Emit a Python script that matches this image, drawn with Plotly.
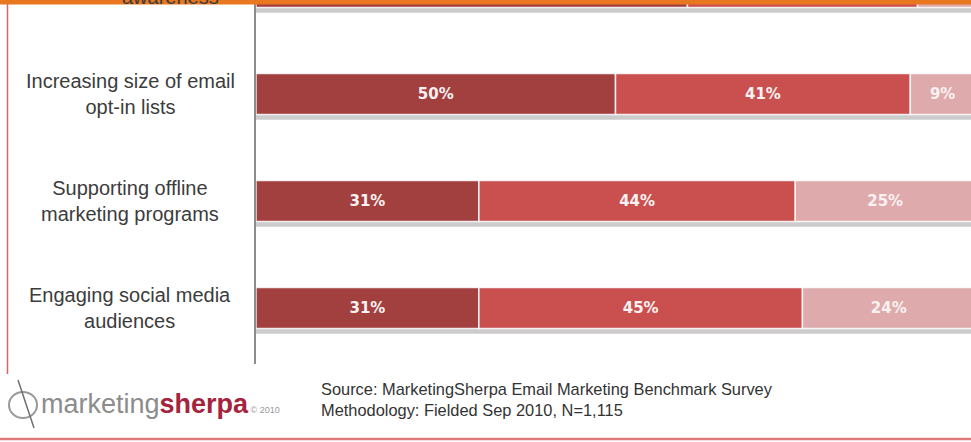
import numpy as np
import plotly.graph_objects as go

# Datos (la fila superior está cortada en el original)
categorias = [
    " <br>awareness",
    "Increasing size of email<br>opt-in lists",
    "Supporting offline<br>marketing programs",
    "Engaging social media<br>audiences",
]
muy_efectivo = [60, 50, 31, 31]
algo_efectivo = [32, 41, 44, 45]
no_efectivo = [8, 9, 25, 24]

fuente = "Source: MarketingSherpa Email Marketing Benchmark Survey"
metodologia = "Methodology: Fielded Sep 2010, N=1,115"

W, H = 971, 442
COLORES = ["#A23F3F", "#C9504F", "#DFAAAB"]
ANCHO = 0.383


def px(x):
    return x / W


def py(y):
    return 1 - y / H


fig = go.Figure()

# Sombra gris bajo cada barra (total de la fila, desplazada unos píxeles)
totales = np.array(muy_efectivo) + np.array(algo_efectivo) + np.array(no_efectivo)
fig.add_trace(go.Bar(
    y=categorias, x=totales, base=0, orientation="h",
    width=ANCHO, offset=-ANCHO / 2 + 0.048,
    marker=dict(color="rgba(120,120,120,0.38)", line=dict(width=0)),
    hoverinfo="skip",
))

base = np.zeros(len(categorias))
for valores, color in zip([muy_efectivo, algo_efectivo, no_efectivo], COLORES):
    # la fila superior queda fuera del recorte: sin etiqueta
    textos = [""] + [f"{v}%" for v in valores[1:]]
    fig.add_trace(go.Bar(
        y=categorias, x=valores, base=base.copy(), orientation="h", width=ANCHO,
        marker=dict(color=color, line=dict(color="rgba(255,255,255,0.85)", width=1.5)),
        text=textos, textposition="inside",
        insidetextanchor="middle", constraintext="none",
        textfont=dict(family="DejaVu Sans", size=15, color="#FAF2F2", weight="bold"),
    ))
    base += np.array(valores)

# Etiquetas de categoría centradas a la izquierda
for cat in categorias[1:]:
    fig.add_annotation(
        x=px(130), xref="paper", y=cat, yref="y", text=cat,
        showarrow=False, xanchor="center", yanchor="middle", align="center",
        font=dict(family="Liberation Sans", size=20, color="#3C3C3C"),
    )
# la primera etiqueta solo asoma por el borde superior
fig.add_annotation(
    x=px(170), xref="paper", y=py(-3), yref="paper", text=categorias[0].split("<br>")[-1],
    showarrow=False, xanchor="center", yanchor="middle",
    font=dict(family="Liberation Sans", size=20, color="#3C3C3C"),
)

# Pie: logo y fuente
fig.add_annotation(
    x=px(39), y=py(404), xref="paper", yref="paper", xanchor="left", yanchor="middle",
    showarrow=False,
    text="<span style='color:#8C8C8C'>marketing</span><b style='color:#A5243D'>sherpa</b>"
         "<span style='color:#999999;font-size:9px'> © 2010</span>",
    font=dict(family="Liberation Sans", size=27),
)
fig.add_annotation(
    x=px(319), y=py(399), xref="paper", yref="paper", xanchor="left", yanchor="middle",
    showarrow=False, align="left", text=f"{fuente}<br>{metodologia}",
    font=dict(family="Liberation Sans", size=16.4, color="#333333"),
)

# Icono del logo (aproximado)
fig.add_shape(type="circle", xref="paper", yref="paper",
              x0=px(9), x1=px(37), y0=py(418), y1=py(392),
              line=dict(color="#9A9A9A", width=2))
fig.add_shape(type="line", xref="paper", yref="paper",
              x0=px(18), x1=px(34), y0=py(380), y1=py(428),
              line=dict(color="#6E6E6E", width=1.5))

# Marco: franja naranja arriba, línea roja izquierda y abajo
fig.add_shape(type="rect", xref="paper", yref="paper", x0=0, x1=1, y0=py(4.5), y1=1,
              fillcolor="#E8771F", line=dict(width=0), layer="above")
fig.add_shape(type="line", xref="paper", yref="paper", x0=px(7.5), x1=px(7.5),
              y0=py(374), y1=py(4), line=dict(color="#E06464", width=1.5))
fig.add_shape(type="line", xref="paper", yref="paper", x0=0, x1=1,
              y0=py(439), y1=py(439), line=dict(color="#E07878", width=2.5))

fig.update_layout(
    width=W, height=H, margin=dict(l=0, r=0, t=0, b=0),
    paper_bgcolor="white", plot_bgcolor="white",
    barmode="overlay", showlegend=False,
    xaxis=dict(domain=[px(256), 1], range=[0, 99.44], visible=False, fixedrange=True),
    yaxis=dict(domain=[py(364), 1], range=[3.523, 0.1215], type="category",
               categoryorder="array", categoryarray=categorias,
               showticklabels=False, ticks="", showgrid=False, zeroline=False,
               showline=True, linecolor="#8C8C8C", linewidth=1.5),
)

# Sin margen del body para que la figura ocupe la ventana exacta
fig.write_html(
    "out.html",
    config={"displayModeBar": False},
    post_script="document.body.style.margin='0';document.body.style.overflow='hidden';",
)
